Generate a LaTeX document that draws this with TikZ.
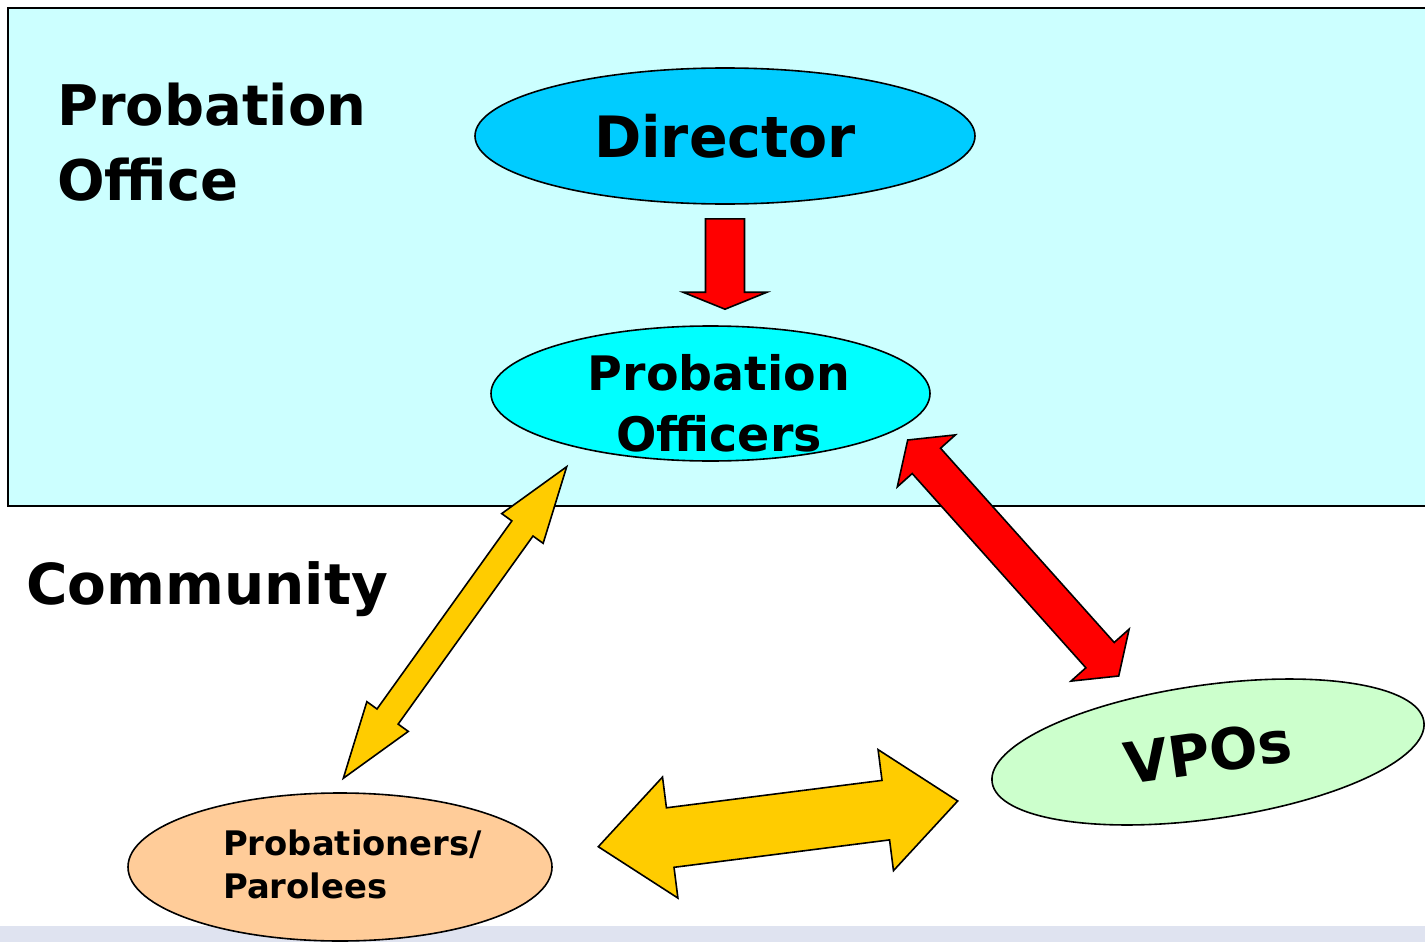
\documentclass[tikz,border=0pt]{standalone}
\usepackage{fontspec}
\setmainfont{DejaVu Sans}
\usetikzlibrary{shapes.geometric,calc}
\definecolor{bgcyan}{HTML}{CCFFFF}
\definecolor{dircol}{HTML}{00CCFF}
\definecolor{pocol}{HTML}{00FFFF}
\definecolor{vpocol}{HTML}{CCFFCC}
\definecolor{ppcol}{HTML}{FFCC99}
\definecolor{arrred}{HTML}{FF0000}
\definecolor{arryel}{HTML}{FFCC00}
\definecolor{stripcol}{RGB}{223,227,240}
% #1 style, #2 tip A, #3 tip B, #4 shaft half width, #5 head half width, #6 head length
\newcommand\dblarrow[6]{%
  \path ($(#2)!#6pt!(#3)$) coordinate (#2h) ($(#3)!#6pt!(#2)$) coordinate (#3h);
  \draw[#1] (#2) -- ($(#2h)!#5pt!90:(#3)$) -- ($(#2h)!#4pt!90:(#3)$)
    -- ($(#3h)!#4pt!-90:(#2)$) -- ($(#3h)!#5pt!-90:(#2)$) -- (#3)
    -- ($(#3h)!#5pt!90:(#2)$) -- ($(#3h)!#4pt!90:(#2)$)
    -- ($(#2h)!#4pt!-90:(#3)$) -- ($(#2h)!#5pt!-90:(#3)$) -- cycle;}
\begin{document}
\begin{tikzpicture}[x=1pt,y=-1pt,
  ell/.style={ellipse, draw, line width=1.6pt, inner sep=0pt, font=\bfseries},
  blk/.style={draw, line width=1.6pt, line join=miter},
  lbl/.style={inner sep=0pt, font=\bfseries}]
\useasboundingbox (0,0) rectangle (1425,942);
% regions
\path[fill=stripcol] (0,926) rectangle (1425,942);
\draw[fill=bgcyan, line width=1.6pt] (8,8) rectangle (1434,506);
% nodes
\node[ell, fill=dircol, minimum width=500pt, minimum height=136pt,
      font=\bfseries\fontsize{57}{60}\selectfont] (dir) at (725,136) {Director};
\node[ell, fill=pocol, minimum width=439pt, minimum height=135pt] (po) at (710.5,393.5) {};
\node[lbl, align=center, font=\bfseries\fontsize{47.5}{61}\selectfont] (potext) at (719,403) {Probation\\Officers};
\node[ell, fill=vpocol, minimum width=436pt, minimum height=134pt, rotate=8,
      font=\bfseries\fontsize{57}{60}\selectfont] (vpo) at (1208,752) {VPOs};
\node[ell, fill=ppcol, minimum width=424pt, minimum height=148pt] (pp) at (340,867) {};
\node[lbl, align=left, anchor=north west, font=\bfseries\fontsize{33.8}{43}\selectfont] (pptext) at (223,830) {Probationers/\\Parolees};
% region labels
\node[lbl, align=left, anchor=north west, font=\bfseries\fontsize{56}{75}\selectfont] (office) at (57,83) {Probation\\Office};
\node[lbl, anchor=base west, font=\bfseries\fontsize{56.5}{60}\selectfont] (comm) at (26,604) {Community};
% down arrow Director -> Probation Officers
\coordinate (dtop) at ($(dir.south)+(0,14)$);
\coordinate (dtip) at ($(dir.south |- po.north)+(0,-16)$);
\coordinate (dh) at ($(dtip)+(0,-17)$);
\draw[blk, fill=arrred] ($(dtop)+(-19.5,0)$) -- ($(dh)+(-19.5,0)$) -- ($(dh)+(-42,0)$) -- (dtip)
  -- ($(dh)+(42,0)$) -- ($(dh)+(19.5,0)$) -- ($(dtop)+(19.5,0)$) -- cycle;
% double arrows
\coordinate (ra) at (907.7,440);
\coordinate (rb) at (1118.7,676);
\dblarrow{blk, fill=arrred}{ra}{rb}{19}{39}{28}
\coordinate (ya) at (566.7,466.7);
\coordinate (yb) at (343.3,778.3);
\dblarrow{blk, fill=arryel}{ya}{yb}{13}{25.5}{76}
\coordinate (ha) at (598.3,846.7);
\coordinate (hb) at (957.7,801);
\dblarrow{blk, fill=arryel}{ha}{hb}{30}{61}{72.5}
\end{tikzpicture}
\end{document}
